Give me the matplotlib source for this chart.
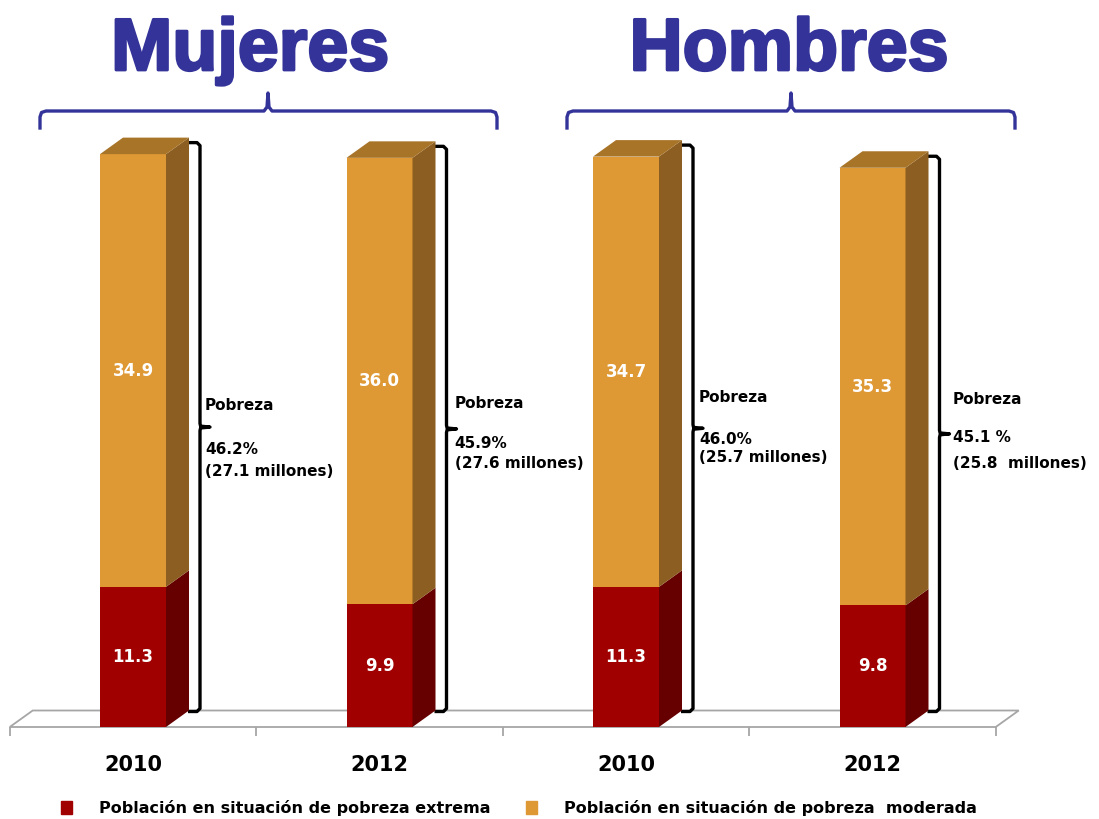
import numpy as np
import matplotlib.pyplot as plt
import matplotlib.patheffects as pe
from matplotlib.patches import Polygon, Patch

# datos
grupos = ['Mujeres', 'Hombres']
anios = ['2010', '2012', '2010', '2012']
extrema = [11.3, 9.9, 11.3, 9.8]
moderada = [34.9, 36.0, 34.7, 35.3]
pobreza_pct = ['46.2%', '45.9%', '46.0%', '45.1 %']
pobreza_mill = ['(27.1 millones)', '(27.6 millones)', '(25.7 millones)', '(25.8  millones)']
leyenda = ['Población en situación de pobreza extrema',
           'Población en situación de pobreza  moderada']

# colores
rojo, rojo_lado = '#A00000', '#660000'
naranja, naranja_lado, naranja_top = '#DE9834', '#8C5E22', '#A87428'
azul = '#333399'

fig = plt.figure(figsize=(10.99, 8.19), dpi=100)
ax = fig.add_axes([0, 0, 1, 1])

# escala en pixeles por unidad (x: categoria, y: porcentaje)
sx, sy = 246.5, 12.4
ax.set_xlim(-133 / sx, (1099 - 133) / sx)
ax.set_ylim(-(819 - 727) / sy, 727 / sy)
ax.axis('off')


def py(p):
    return (727 - p) / sy


def px(p):
    return (p - 133) / sx


x = np.arange(len(anios))
w = 66 / sx
dx, dy = 23 / sx, 16.5 / sy
total = [e + m for e, m in zip(extrema, moderada)]

# piso
n = len(anios)
ax.add_patch(Polygon([(-0.5, 0), (-0.5 + dx, dy), (n - 0.5 + dx, dy), (n - 0.5, 0)],
                     closed=True, fc='white', ec='#A6A6A6', lw=1.3, zorder=1))
ax.vlines(np.arange(n + 1) - 0.5, -9 / sy, 0, color='#A6A6A6', lw=1.3, zorder=1)

# barras (cara frontal)
ax.bar(x, extrema, w, color=rojo, lw=0, zorder=3)
ax.bar(x, moderada, w, bottom=extrema, color=naranja, lw=0, zorder=3)

# caras laterales y superior
for xi, e, t in zip(x, extrema, total):
    xr = xi + w / 2
    xl = xi - w / 2
    ax.add_patch(Polygon([(xr, 0), (xr + dx, dy), (xr + dx, e + dy), (xr, e)],
                         fc=rojo_lado, lw=0, zorder=3))
    ax.add_patch(Polygon([(xr, e), (xr + dx, e + dy), (xr + dx, t + dy), (xr, t)],
                         fc=naranja_lado, lw=0, zorder=3))
    ax.add_patch(Polygon([(xl, t), (xl + dx, t + dy), (xr + dx, t + dy), (xr, t)],
                         fc=naranja_top, lw=0, zorder=3))

# etiquetas de valores
for xi, e, m in zip(x, extrema, moderada):
    ax.text(xi, e / 2, f'{e:.1f}', color='white', fontsize=12, fontweight='bold',
            ha='center', va='center', zorder=4)
    ax.text(xi, e + m / 2, f'{m:.1f}', color='white', fontsize=12, fontweight='bold',
            ha='center', va='center', zorder=4)

# llaves de pobreza a la derecha de cada barra
pob_y = [405, 403, 397, 399]
pct_y = [450, 443, 440, 437]
mill_y = [471, 463, 458, 463]
txt_dx = [5, 8, 6, 13]
for i, (xi, t) in enumerate(zip(x, total)):
    xb = xi + w / 2 + dx + 11 / sx
    top = t + dy - 5 / sy
    bot = dy - 1 / sy
    mid = (top + bot) / 2
    h = 12 / sx
    r = 3 / sx
    ry = 3 / sy
    xs = [xb - h, xb - r, xb, xb, xb + 0.2 * r, xb + 10 / sx, xb + 0.2 * r, xb, xb, xb - r, xb - h]
    ys = [top, top, top - ry, mid + 1.2 * ry, mid + 0.3 * ry, mid, mid - 0.3 * ry, mid - 1.2 * ry,
          bot + ry, bot, bot]
    ax.plot(xs, ys, color='black', lw=2.4, solid_capstyle='butt', solid_joinstyle='round', zorder=2)
    xt = xb + txt_dx[i] / sx
    ax.text(xt, py(pob_y[i]), 'Pobreza', fontsize=11, fontweight='bold', va='center', ha='left')
    ax.text(xt, py(pct_y[i]), pobreza_pct[i], fontsize=11, fontweight='bold', va='center', ha='left')
    ax.text(xt, py(mill_y[i]), pobreza_mill[i], fontsize=11, fontweight='bold', va='center', ha='left')

# etiquetas de anios
for xi, a in zip(x, anios):
    ax.text(xi, py(765), a, fontsize=15, fontweight='bold', ha='center', va='center')

# titulos de grupo con llaves
llaves = [(40, 497, 268), (567, 1015, 791)]
titulo_x = [250, 789]
for g, (l0, l1, lc), tx in zip(grupos, llaves, titulo_x):
    yl, ye, yt = py(111), py(128), py(93)
    r = 6
    xs = [px(l0), px(l0), px(l0 + 1.5), px(l0 + r), px(lc - 4), px(lc - 1), px(lc),
          px(lc + 1), px(lc + 4), px(l1 - r), px(l1 - 1.5), px(l1), px(l1)]
    ys = [ye, py(117), py(112.5), yl, yl, py(107), yt,
          py(107), yl, yl, py(112.5), py(117), ye]
    ax.plot(xs, ys, color=azul, lw=2.4, solid_joinstyle='round', zorder=2)
    ax.text(px(tx), py(70), g, fontsize=53, fontweight='bold', color=azul,
            family='Liberation Sans', ha='center', va='baseline',
            path_effects=[pe.withStroke(linewidth=2, foreground=azul)])

# leyenda
handles = [Patch(color=rojo), Patch(color=naranja)]
ax.legend(handles, leyenda, loc='center', bbox_to_anchor=(519 / 1099, (819 - 808) / 819),
          bbox_transform=fig.transFigure, ncol=2, frameon=False, handlelength=0.7,
          handleheight=0.8, handletextpad=1.7, columnspacing=2.2,
          prop=dict(weight='bold', size=11.5), borderpad=0)

fig.savefig('out.png', dpi=100)
